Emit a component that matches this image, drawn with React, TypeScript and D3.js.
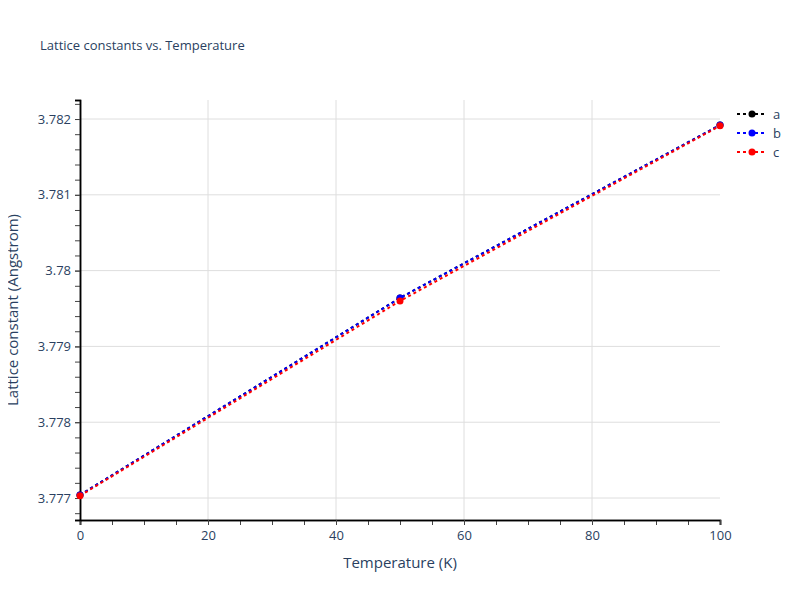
import React, { useRef, useEffect } from 'react';
import * as d3 from 'd3';

const temperatures = [0, 50, 100];
const seriesA = [3.77704, 3.77964, 3.78192];
const seriesB = [3.77704, 3.77964, 3.78192];
const seriesC = [3.77703, 3.7796, 3.78191];
const seriesNames = ['a', 'b', 'c'];
const seriesColors = ['black', 'blue', 'red'];
const xTicks = [0, 20, 40, 60, 80, 100];
const yTicks = [3.777, 3.778, 3.779, 3.78, 3.781, 3.782];

const W = 800;
const H = 600;
const FONT = '"Open Sans", Verdana, Arial, sans-serif';
const TEXT = '#2a3f5f';

const App: React.FC = () => {
  const ref = useRef<SVGSVGElement | null>(null);

  useEffect(() => {
    const margin = { top: 100, right: 80, bottom: 80, left: 80 };
    const w = W - margin.left - margin.right;
    const h = H - margin.top - margin.bottom;

    const svg = d3.select(ref.current);
    svg.selectAll('*').remove();

    const xScale = d3.scaleLinear().domain([0, 100]).range([0, w]);
    const yScale = d3.scaleLinear().domain([3.77671, 3.782251]).range([h, 0]);

    svg.append('rect').attr('width', W).attr('height', H).attr('fill', 'white');

    svg.append('text')
      .attr('x', 40)
      .attr('y', 50)
      .attr('fill', TEXT)
      .attr('font-family', FONT)
      .attr('font-size', '13px')
      .text('Lattice constants vs. Temperature');

    const group = svg.append('g').attr('transform', `translate(${margin.left},${margin.top})`);

    // grid
    group.append('g')
      .selectAll('line')
      .data(xTicks.slice(1, -1))
      .join('line')
      .attr('x1', d => xScale(d)).attr('x2', d => xScale(d))
      .attr('y1', 0).attr('y2', h)
      .attr('stroke', '#dedede').attr('stroke-width', 1);
    group.append('g')
      .selectAll('line')
      .data(yTicks)
      .join('line')
      .attr('x1', 0).attr('x2', w)
      .attr('y1', d => yScale(d)).attr('y2', d => yScale(d))
      .attr('stroke', '#dedede').attr('stroke-width', 1);

    // minor ticks
    const xMinor = d3.range(0, 100.001, 5);
    const yMinor = d3.range(3.7768, 3.78225, 0.0002);
    const xAxisMinor = d3.axisBottom(xScale).tickValues(xMinor).tickSize(5).tickFormat(() => '');
    const yAxisMinor = d3.axisLeft(yScale).tickValues(yMinor).tickSize(5).tickFormat(() => '');

    const xAxis = d3.axisBottom(xScale).tickValues(xTicks).tickSize(5).tickPadding(6)
      .tickFormat(d => String(d));
    const yAxis = d3.axisLeft(yScale).tickValues(yTicks).tickSize(5).tickPadding(4)
      .tickFormat(d => String(+(+d).toFixed(3)));

    const styleAxis = (g: d3.Selection<SVGGElement, unknown, null, undefined>) => {
      g.select('.domain').attr('stroke', 'black').attr('stroke-width', 1.5);
      g.selectAll('.tick line').attr('stroke', '#444');
      g.selectAll('.tick text').attr('fill', TEXT).attr('font-family', FONT).attr('font-size', '13px');
    };

    group.append('g').attr('transform', `translate(0,${h})`).call(xAxisMinor).call(styleAxis);
    group.append('g').call(yAxisMinor).call(styleAxis);
    group.append('g').attr('transform', `translate(0,${h})`).call(xAxis).call(styleAxis);
    group.append('g').call(yAxis).call(styleAxis);

    // axis titles
    svg.append('text')
      .attr('x', margin.left + w / 2)
      .attr('y', 568)
      .attr('text-anchor', 'middle')
      .attr('fill', TEXT)
      .attr('font-family', FONT)
      .attr('font-size', '15px')
      .text('Temperature (K)');
    svg.append('text')
      .attr('transform', `translate(18,${margin.top + h / 2}) rotate(-90)`)
      .attr('text-anchor', 'middle')
      .attr('fill', TEXT)
      .attr('font-family', FONT)
      .attr('font-size', '15px')
      .text('Lattice constant (Angstrom)');

    // series
    const allSeries = [seriesA, seriesB, seriesC];
    const line = d3.line<number>()
      .x((_, i) => xScale(temperatures[i]))
      .y(v => yScale(v));

    const plot = group.append('g');
    allSeries.forEach((values, si) => {
      plot.append('path')
        .attr('d', line(values))
        .attr('fill', 'none')
        .attr('stroke', seriesColors[si])
        .attr('stroke-width', 2)
        .attr('stroke-dasharray', '3,3');
      plot.append('g')
        .selectAll('circle')
        .data(values)
        .join('circle')
        .attr('cx', (_, i) => xScale(temperatures[i]))
        .attr('cy', v => yScale(v))
        .attr('r', 3.5)
        .attr('fill', seriesColors[si]);
    });

    // legend
    const legend = svg.append('g').attr('transform', 'translate(737,114)');
    seriesNames.forEach((name, i) => {
      const item = legend.append('g').attr('transform', `translate(0,${i * 19})`);
      item.append('line')
        .attr('x1', 0).attr('x2', 30)
        .attr('stroke', seriesColors[i])
        .attr('stroke-width', 2)
        .attr('stroke-dasharray', '3,3');
      item.append('circle').attr('cx', 15).attr('r', 3.5).attr('fill', seriesColors[i]);
      item.append('text')
        .attr('x', 36)
        .attr('y', 4.5)
        .attr('fill', TEXT)
        .attr('font-family', FONT)
        .attr('font-size', '13px')
        .text(name);
    });
  }, []);

  return <svg ref={ref} width={W} height={H} style={{ display: 'block', margin: '-8px' }} />;
};

export default App;
